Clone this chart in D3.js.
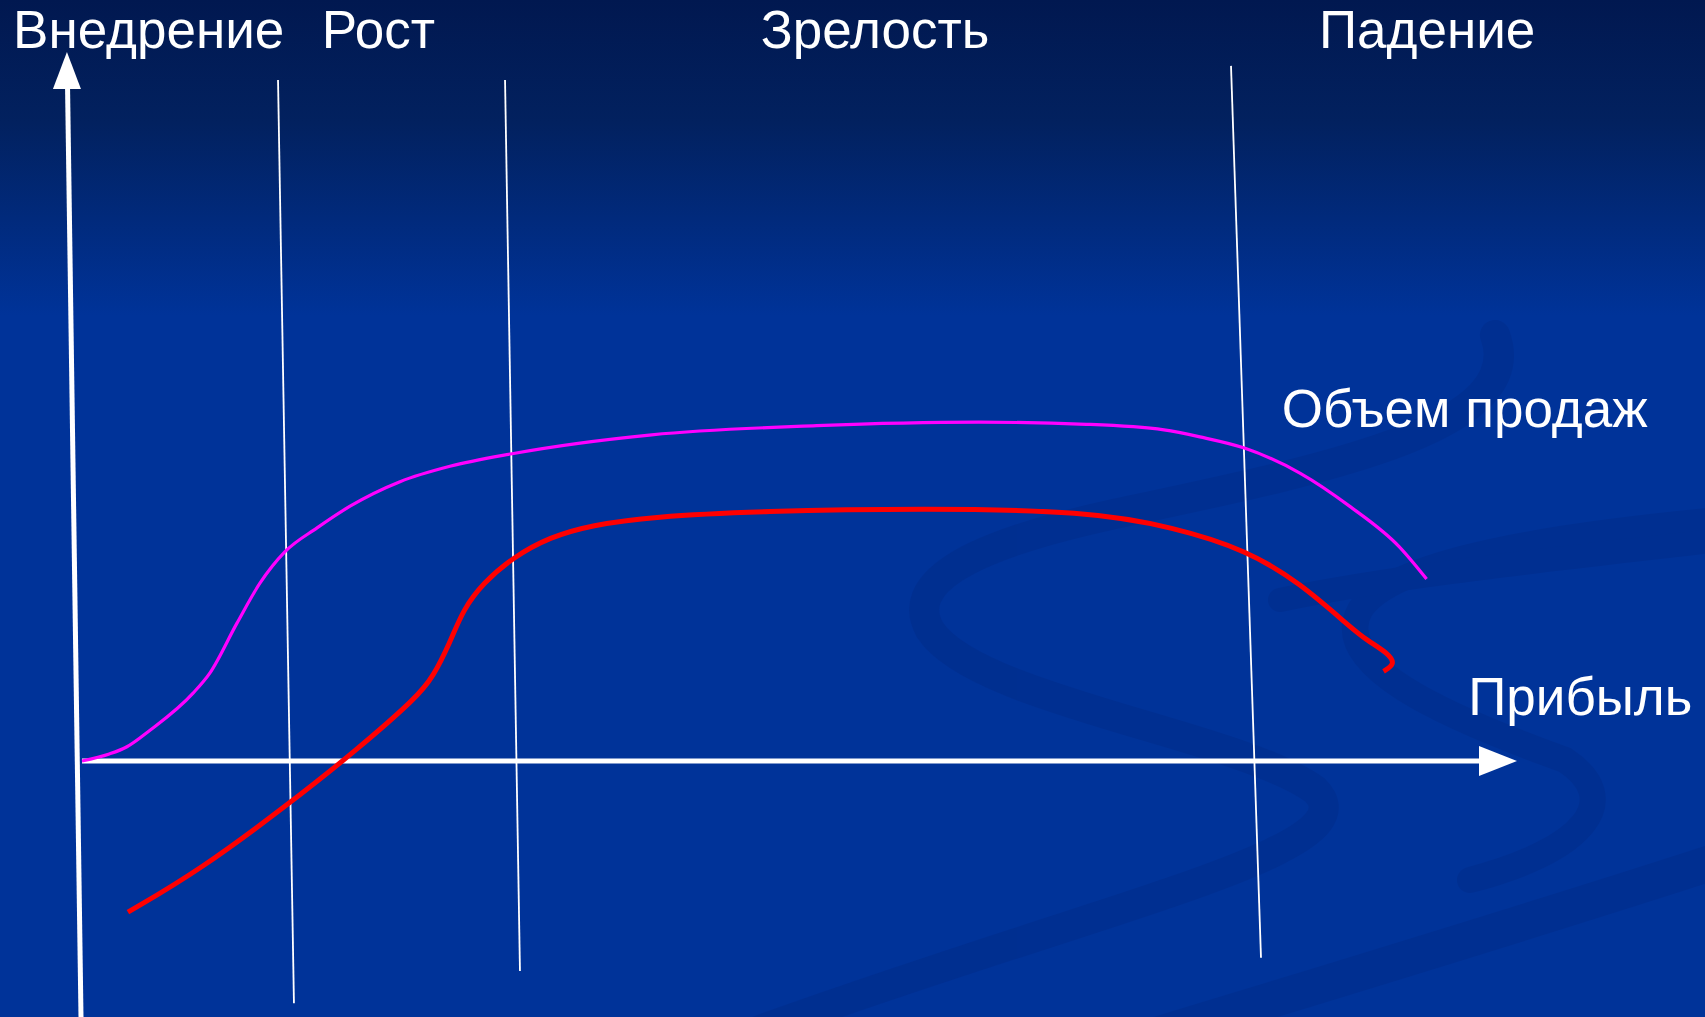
<!DOCTYPE html>
<html lang="ru">
<head>
<meta charset="utf-8">
<title>Жизненный цикл товара</title>
<script src="https://cdn.jsdelivr.net/npm/d3@7"></script>
<style>
  html, body { margin: 0; padding: 0; background: #003399; overflow: hidden; }
  svg { display: block; }
</style>
</head>
<body>
<svg id="chart" width="1705" height="1017"></svg>
<script>
// Stages of the product life cycle (label, position of label along time axis)
const stageNames = ["Внедрение", "Рост", "Зрелость", "Падение"];
const stageLabelT = [-4.8, 16.7, 47.3, 86.2];

// Stage boundaries: time position at the top and at the bottom of each line,
// and their vertical extent in value units
const boundaryTopT = [13.66, 29.48, 80.07];
const boundaryBottomT = [14.77, 30.52, 82.16];
const boundaryTopV = [97.3, 97.3, 99.3];
const boundaryBottomV = [-34.6, -30.0, -28.1];

// Sales volume over time
const salesT = [0, 1.9, 3.1, 4.74, 7.74, 8.92, 10.8, 12.4, 14.15, 16.38, 18.68, 22.16, 25.64, 29.97, 39.7, 51.2, 62.5, 70.0, 75.4, 77.9, 81.0, 84.9, 88.4, 91.8, 93.7];
const salesV = [0, 1.0, 2.0, 4.4, 9.7, 12.6, 19.7, 25.4, 29.9, 33.3, 36.4, 39.9, 42.1, 43.9, 46.6, 47.9, 48.4, 48.1, 47.3, 46.3, 44.7, 41.1, 36.3, 30.6, 26.0];

// Profit over time
const profitT = [3.2, 8.2, 14.5, 19.16, 23.34, 24.46, 25.64, 26.55, 27.94, 30.03, 32.6, 35.5, 39.7, 47.3, 58.7, 70.0, 76.1, 81.2, 84.9, 88.4, 89.5, 91.1, 91.5, 90.7];
const profitV = [-21.6, -15.6, -6.0, 1.6, 9.1, 12.0, 16.9, 21.6, 25.4, 29.1, 32.0, 33.7, 34.9, 35.7, 36.1, 35.7, 33.4, 30.1, 25.4, 19.1, 17.3, 15.3, 13.8, 12.8];

// Series labels
const seriesNames = ["Объем продаж", "Прибыль"];
const seriesLabelT = [83.6, 96.6];
const seriesLabelV = [47.7, 6.6];

// Axis extents in data units
const xAxisEnd = 100;
const yAxisTopV = 101.3, yAxisTopT = -1.05;
const yAxisBottomV = -36.6, yAxisBottomT = -0.07;

const W = 1705, H = 1017;
const svg = d3.select("#chart");

const x = d3.scaleLinear().domain([0, 100]).range([82, 1517]);
const y = d3.scaleLinear().domain([0, 100]).range([761, 61]);

// ---- background ----
const defs = svg.append("defs");
const grad = defs.append("linearGradient")
  .attr("id", "bg").attr("x1", 0).attr("y1", 0).attr("x2", 0).attr("y2", 1);
grad.append("stop").attr("offset", "0%").attr("stop-color", "#011850");
grad.append("stop").attr("offset", "12%").attr("stop-color", "#02215f");
grad.append("stop").attr("offset", "31%").attr("stop-color", "#003399");
grad.append("stop").attr("offset", "100%").attr("stop-color", "#003399");
svg.append("rect").attr("width", W).attr("height", H).attr("fill", "url(#bg)");

// decorative swirling ribbons
const ribbons = svg.append("g").attr("fill", "none")
  .attr("stroke", "#00287f").attr("stroke-linecap", "round").attr("opacity", 0.3);
ribbons.append("path")
  .attr("stroke-width", 30)
  .attr("d", "M1495,335 C1530,430 1320,470 1110,515 C960,548 905,585 930,630 C975,700 1240,735 1315,790 C1375,850 1120,900 760,1030");
ribbons.append("path")
  .attr("stroke-width", 26)
  .attr("d", "M1720,520 C1560,535 1390,560 1360,610 C1330,665 1440,715 1565,760 C1625,800 1585,850 1470,880");
ribbons.append("path")
  .attr("stroke-width", 36)
  .attr("d", "M1720,860 C1520,925 1320,985 1140,1040");
ribbons.append("path")
  .attr("stroke-width", 24)
  .attr("d", "M1720,540 C1550,560 1400,575 1280,600");

// ---- stage boundary lines ----
svg.append("g").selectAll("line")
  .data(boundaryTopT.map((t, i) => ({ t0: t, t1: boundaryBottomT[i], v0: boundaryTopV[i], v1: boundaryBottomV[i] })))
  .join("line")
  .attr("x1", d => x(d.t0)).attr("y1", d => y(d.v0))
  .attr("x2", d => x(d.t1)).attr("y2", d => y(d.v1))
  .attr("stroke", "#ffffff").attr("stroke-width", 1.8);

// ---- axes ----
const axes = svg.append("g").attr("fill", "#ffffff");
// horizontal (time) axis
axes.append("line")
  .attr("x1", x(0)).attr("y1", y(0))
  .attr("x2", x(xAxisEnd) - 30).attr("y2", y(0))
  .attr("stroke", "#ffffff").attr("stroke-width", 5);
axes.append("path")
  .attr("d", `M${x(xAxisEnd)},${y(0)} L${x(xAxisEnd) - 38},${y(0) - 15} L${x(xAxisEnd) - 38},${y(0) + 15} Z`);
// vertical (value) axis
axes.append("line")
  .attr("x1", x(yAxisBottomT)).attr("y1", y(yAxisBottomV))
  .attr("x2", x(yAxisTopT) + 0.6).attr("y2", y(yAxisTopV) + 34)
  .attr("stroke", "#ffffff").attr("stroke-width", 5);
axes.append("path")
  .attr("d", `M${x(yAxisTopT)},${y(yAxisTopV)} L${x(yAxisTopT) - 14},${y(yAxisTopV) + 37} L${x(yAxisTopT) + 14},${y(yAxisTopV) + 37} Z`);

// ---- curves ----
const salesLine = d3.line()
  .x(d => x(d[0])).y(d => y(d[1]))
  .curve(d3.curveMonotoneX);

// profit bends back at its end, so it uses a parametric spline
const profitLine = d3.line()
  .x(d => x(d[0])).y(d => y(d[1]))
  .curve(d3.curveBasis);

svg.append("path")
  .datum(salesT.map((t, i) => [t, salesV[i]]))
  .attr("d", salesLine)
  .attr("fill", "none").attr("stroke", "#ff00ff").attr("stroke-width", 3.2)
  .attr("stroke-linejoin", "round");

svg.append("path")
  .datum(profitT.map((t, i) => [t, profitV[i]]))
  .attr("d", profitLine)
  .attr("fill", "none").attr("stroke", "#ff0000").attr("stroke-width", 5)
  .attr("stroke-linejoin", "round");

// ---- labels ----
const font = "'Liberation Sans', Arial, sans-serif";
svg.append("g").selectAll("text")
  .data(stageNames)
  .join("text")
  .attr("x", (d, i) => x(stageLabelT[i]))
  .attr("y", 48)
  .attr("fill", "#ffffff")
  .attr("font-family", font)
  .attr("font-size", 53)
  .text(d => d);

svg.append("g").selectAll("text")
  .data(seriesNames)
  .join("text")
  .attr("x", (d, i) => x(seriesLabelT[i]))
  .attr("y", (d, i) => y(seriesLabelV[i]))
  .attr("fill", "#ffffff")
  .attr("font-family", font)
  .attr("font-size", 53)
  .text(d => d);
</script>
</body>
</html>
